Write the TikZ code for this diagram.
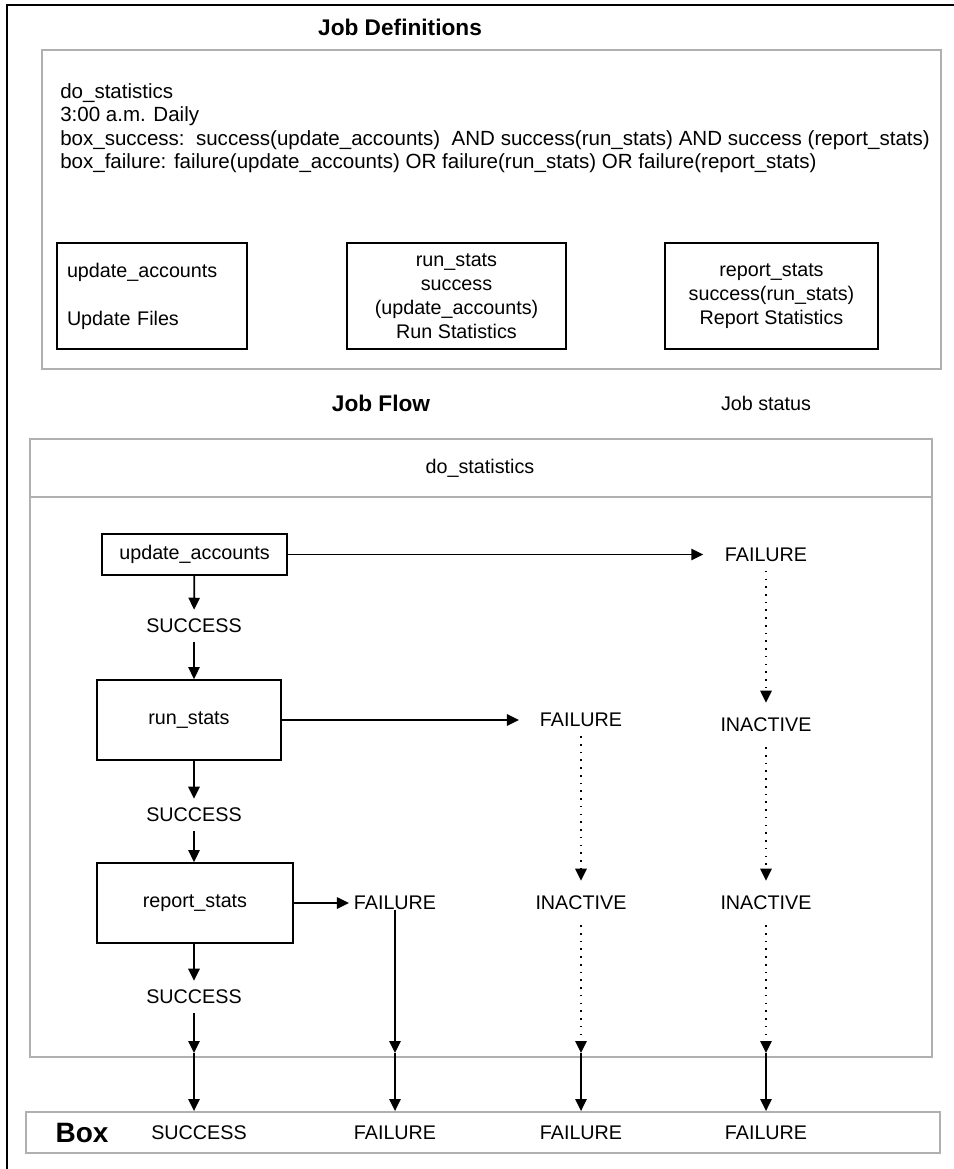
\documentclass[tikz,border=0pt]{standalone}
\usepackage{fontspec}
\setmainfont{Liberation Sans}
\usetikzlibrary{arrows.meta}
\definecolor{framegray}{HTML}{B0B0B0}
\begin{document}
\begin{tikzpicture}[x=0.75pt,y=-0.75pt,
  every node/.style={font=\fontsize{14.8pt}{18pt}\selectfont, inner sep=0pt},
  heading/.style={font=\fontsize{17pt}{20pt}\selectfont\bfseries},
  defline/.style={anchor=west, font=\fontsize{15.4pt}{18pt}\selectfont},
  panel/.style={draw=framegray, line width=1.4pt},
  jobbox/.style={draw=black, line width=1.3pt},
  state/.style={minimum height=24pt},
  inact/.style={minimum height=33pt},
  flow/.style={draw=black, line width=1.3pt, -{Triangle[length=9pt,width=8.5pt]}},
  idle/.style={draw=black, line width=1.2pt, dash pattern=on 1.2pt off 4.6pt,
               -{Triangle[length=9pt,width=8.5pt]}}]
\useasboundingbox (0,0) rectangle (953,1169);

% outer frame
\draw[line width=1.6pt] (7,1180) -- (7,5) -- (965,5);

% ---------------- job definitions ----------------
\node[heading] (deftitle) at (400,27) {Job Definitions};
\draw[panel] (42,50) rectangle (941,369);
\node[defline] (d1) at (60,93) {do\_statistics};
\node[defline] (d2) at (60,116) {3:00 a.m. Daily};
\node[defline] (d3) at (60,140) {box\_success:\ \ success(update\_accounts)\ \ AND success(run\_stats) AND success (report\_stats)};
\node[defline] (d4) at (60,163) {box\_failure: failure(update\_accounts) OR failure(run\_stats) OR failure(report\_stats)};

\node[jobbox, minimum width=142.5pt, minimum height=79.5pt, inner xsep=7.5pt,
      text width=127.5pt, align=left] (dua) at (152,296)
      {update\_accounts\\[18pt]Update Files};
\node[jobbox, minimum width=164.25pt, minimum height=79.5pt, align=center] (drs) at (456.5,296)
      {run\_stats\\success\\(update\_accounts)\\Run Statistics};
\node[jobbox, minimum width=159.75pt, minimum height=79.5pt, align=center] (drp) at (771.5,296)
      {report\_stats\\success(run\_stats)\\Report Statistics};

% ---------------- job flow ----------------
\node[heading] (flowtitle) at (381,403) {Job Flow};
\node (statustitle) at (766,403) {Job status};
\draw[panel] (30,439) rectangle (932,1057);
\draw[panel] (30,497) -- (932,497);
\node (boxname) at (480,468) {do\_statistics};

\node[jobbox, minimum width=138.75pt, minimum height=30.75pt] (ua) at (194.5,554.5) {update\_accounts};
\node[jobbox, minimum width=138pt, minimum height=60pt] (rs) at (189,720) {run\_stats};
\node[jobbox, minimum width=147pt, minimum height=60pt] (rp) at (195,903) {report\_stats};

\node[state] (s1) at (194,626) {SUCCESS};
\node[state] (s2) at (194,815) {SUCCESS};
\node[state] (s3) at (194,997) {SUCCESS};

\node[state, inner xsep=16pt] (fB1) at (766,554.5) {FAILURE};
\node[state, inner xsep=15.5pt] (fA1) at (581,720) {FAILURE};
\node[inner xsep=3.5pt] (fC) at (395,903) {FAILURE};
\node[inact] (iB1) at (766,725) {INACTIVE};
\node[inact] (iA2) at (581,903) {INACTIVE};
\node[inact] (iB2) at (766,903) {INACTIVE};

% success chain
\draw[flow] (ua) -- (s1);
\draw[flow] (s1) -- (s1 |- rs.north);
\draw[flow] (s1 |- rs.south) -- (s2);
\draw[flow] (s2) -- (s2 |- rp.north);
\draw[flow] (s2 |- rp.south) -- (s3);

% failures
\draw[flow] (ua.east) -- (fB1.west);
\draw[flow] (rs.east) -- (fA1.west);
\draw[flow] (rp.east) -- (fC.west);

% inactive propagation
\draw[idle] (fB1) -- (iB1);
\draw[idle] (iB1) -- (iB2);
\draw[idle] (fA1) -- (iA2);

% exits at the bottom of the box
\coordinate (exS) at (194,1053);
\coordinate (exC) at (395,1053);
\coordinate (exA) at (581,1053);
\coordinate (exB) at (766,1053);
\draw[flow] (s3) -- (exS);
\draw[flow] (fC.south) -- (exC);
\draw[idle] (iA2) -- (exA);
\draw[idle] (iB2) -- (exB);

% ---------------- box status ----------------
\node[panel, minimum width=685.5pt, minimum height=30.75pt] (boxrow) at (483,1132.5) {};
\node[font=\fontsize{21pt}{24pt}\selectfont\bfseries] (boxlabel) at (82,1133) {Box};
\node (bS) at (199,1133) {SUCCESS};
\node (bC) at (395,1133) {FAILURE};
\node (bA) at (581,1133) {FAILURE};
\node (bB) at (766,1133) {FAILURE};

\draw[flow] (exS) -- (exS |- boxrow.north);
\draw[flow] (exC) -- (exC |- boxrow.north);
\draw[flow] (exA) -- (exA |- boxrow.north);
\draw[flow] (exB) -- (exB |- boxrow.north);
\end{tikzpicture}
\end{document}
